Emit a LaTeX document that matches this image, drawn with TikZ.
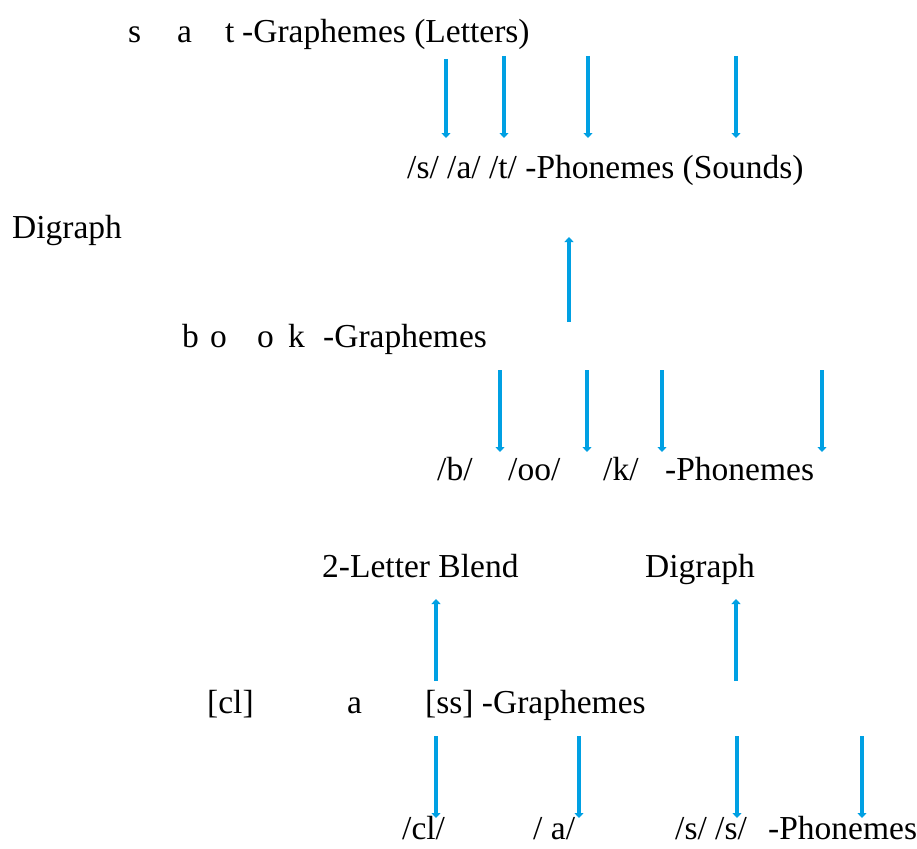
\documentclass[tikz,border=0pt]{standalone}
\usepackage{fontspec}
\setmainfont{Liberation Serif}
\usetikzlibrary{arrows.meta}
\definecolor{linkblue}{RGB}{0,160,227}
\tikzset{
  word/.style={anchor=base west,inner sep=0pt,font=\fontsize{33.5}{40}\selectfont},
  link/.style={linkblue,line width=3.6pt,-{Triangle[length=5pt,width=9pt]}}
}
\begin{document}
\begin{tikzpicture}[x=1pt,y=-1pt]
    \useasboundingbox (0,0) rectangle (917,848);
    % sat
    \node[word] (s1) at (128,43) {s};
    \node[word] (a1) at (177,43) {a};
    \node[word] (t1) at (225,43) {t};
    \node[word] (g1) at (242,43) {-Graphemes (Letters)};
    \node[word] (p1) at (407,178) {/s/ /a/ /t/ -Phonemes (Sounds)};
    \foreach \x/\y [count=\i] in {446/59,504/56,588/56,736/56} {
        \coordinate (u\i) at (\x,\y);
        \coordinate (v\i) at (\x,138);
        \draw[link] (u\i) -- (v\i);
    }
    % book
    \node[word] (dg1) at (12,238) {Digraph};
    \coordinate (d1) at (569,322);
    \coordinate (d2) at (569,237);
    \draw[link] (d1) -- (d2);
    \node[word] (b2) at (182,347) {b};
    \node[word] (o2) at (210,347) {o};
    \node[word] (oo2) at (257,347) {o};
    \node[word] (k2) at (288,347) {k};
    \node[word] (g2) at (323,347) {-Graphemes};
    \foreach \x [count=\i] in {500,587,662,822} {
        \coordinate (m\i) at (\x,370);
        \coordinate (n\i) at (\x,452);
        \draw[link] (m\i) -- (n\i);
    }
    \node[word] (pb) at (437,480) {/b/};
    \node[word] (poo) at (508,480) {/oo/};
    \node[word] (pk) at (603,480) {/k/};
    \node[word] (p2) at (665,480) {-Phonemes};
    % class
    \node[word] (bl) at (322,577) {2-Letter Blend};
    \node[word] (dg2) at (645,577) {Digraph};
    \foreach \x [count=\i] in {436,736} {
        \coordinate (e\i) at (\x,681);
        \coordinate (f\i) at (\x,599);
        \draw[link] (e\i) -- (f\i);
    }
    \node[word] (cl) at (207,713) {[cl]};
    \node[word] (a3) at (347,713) {a};
    \node[word] (g3) at (425,713) {[ss] -Graphemes};
    \foreach \x [count=\i] in {436,579,737,862} {
        \coordinate (h\i) at (\x,736);
        \coordinate (j\i) at (\x,818);
        \draw[link] (h\i) -- (j\i);
    }
    \node[word] (pcl) at (402,839) {/cl/};
    \node[word] (pa) at (533,839) {/ a/};
    \node[word] (pss) at (675,839) {/s/ /s/};
    \node[word] (p3) at (768,839) {-Phonemes};
\end{tikzpicture}
\end{document}
